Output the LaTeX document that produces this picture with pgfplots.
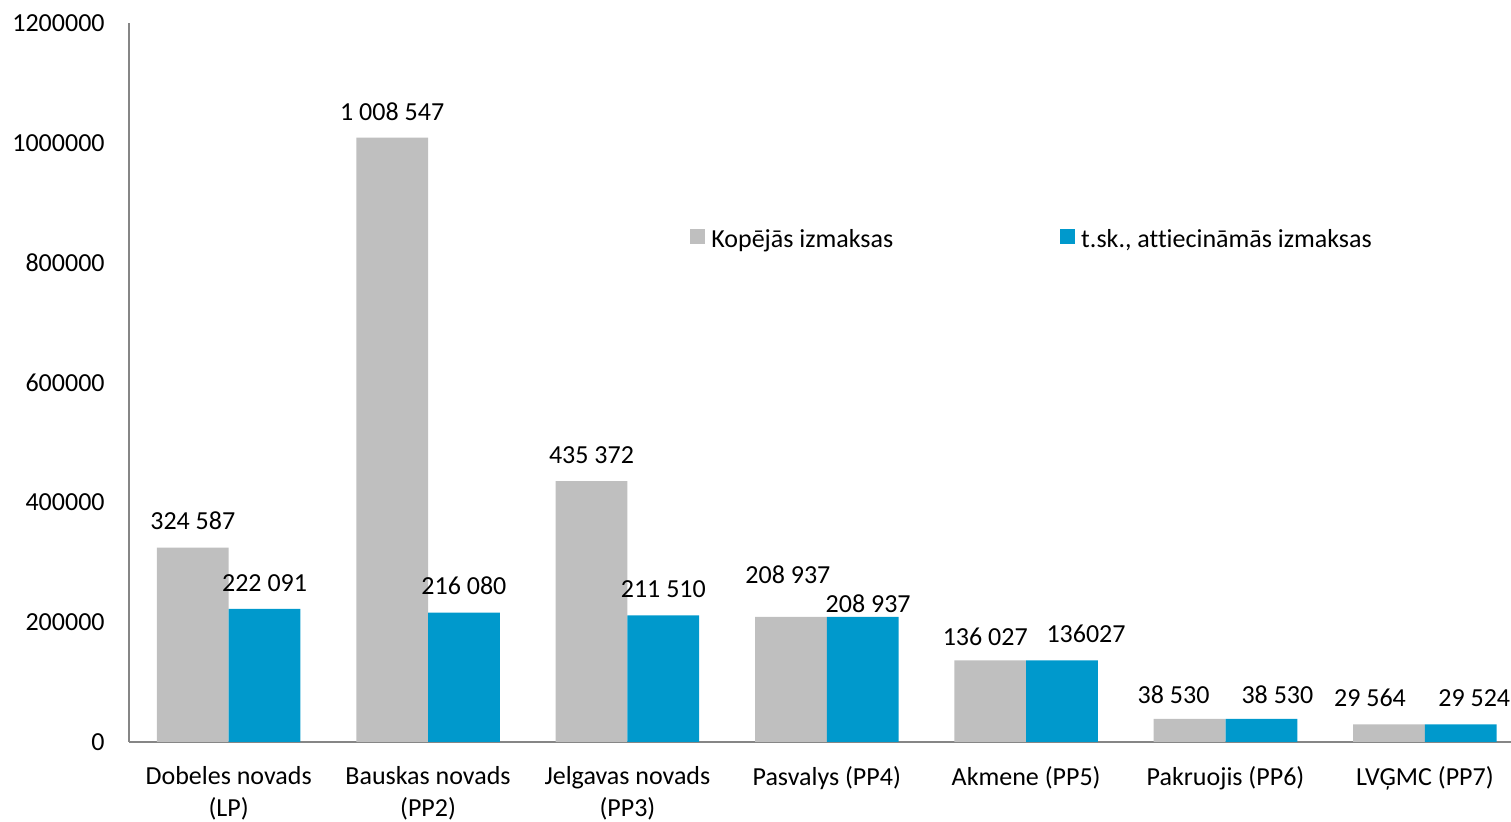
\documentclass[border=0pt]{standalone}
\usepackage{pgfplots}
\pgfplotsset{compat=1.18}
\usepackage{pgfplotstable}
\usepackage{fontspec}
\setmainfont{Carlito}[Ligatures=NoCommon]
\definecolor{cgray}{RGB}{191,191,191}
\definecolor{cblue}{RGB}{0,153,204}
\definecolor{caxis}{RGB}{134,134,134}

\pgfplotstableread[col sep=comma]{
x,y,label,dx,dy
0,324587,324 587,0,13.25
1,1008547,1 008 547,0,12.9
2,435372,435 372,0,13
3,208937,208 937,-1.5,20.9
4,136027,136 027,-2.5,11.75
5,38530,38 530,-8,12
6,29564,29 564,-9.5,13
}\kopejas

\pgfplotstableread[col sep=comma]{
x,y,label,dx,dy
0,222091,222 091,0,13
1,216080,216 080,0,13.25
2,211510,211 510,0,13.15
3,208937,208 937,2.75,6.4
4,136027,136027,12,13.25
5,38530,38 530,8,12
6,29524,29 524,6.75,13
}\attiec

\begin{document}
\fontsize{13}{15.5}\selectfont
\begin{tikzpicture}
\useasboundingbox (-64.5pt,-40pt) rectangle (691pt,371pt);
\begin{axis}[
  scale only axis,
  width=691pt, height=359.5pt,
  at={(0,0)}, anchor=south west,
  xmin=-0.5, xmax=6.432,
  ymin=0, ymax=1200000,
  ytick={0,200000,400000,600000,800000,1000000,1200000},
  scaled y ticks=false,
  yticklabel style={/pgf/number format/fixed, /pgf/number format/1000 sep={}, /pgf/number format/assume math mode=true, inner sep=0pt, xshift=-12pt, font=\fontsize{13}{15.5}\selectfont},
  xtick={0,1,2,3,4,5,6},
  xticklabels={{Dobeles novads\\(LP)},{Bauskas novads\\(PP2)},{Jelgavas novads\\(PP3)},{Pasvalys (PP4)},{Akmene (PP5)},{Pakruojis (PP6)},{LVĢMC (PP7)}},
  xticklabel style={align=center, inner sep=0pt, yshift=-12pt, font=\fontsize{13}{16.2}\selectfont},
  major tick length=0pt,
  axis x line=bottom, axis y line=left,
  axis line style={-, draw=caxis, line width=1pt},
  ybar=0pt, bar width=0.36,
  nodes near coords,
  point meta=explicit symbolic,
  visualization depends on={\thisrow{dx} \as \labdx},
  visualization depends on={\thisrow{dy} \as \labdy},
  nodes near coords style={anchor=center, inner sep=0pt, xshift=\labdx pt, yshift=\labdy pt, text=black, font=\fontsize{13}{15.5}\selectfont},
  legend columns=2,
  legend style={draw=none, fill=none, at={(rel axis cs:0.4059,0.698)}, anchor=west, inner xsep=0pt, inner ysep=0pt,
    nodes={inner xsep=3pt, inner ysep=0pt}, font=\fontsize{13}{15.5}\selectfont,
    /tikz/column 2/.style={column sep=80.5pt}},
  legend image code/.code={\fill[#1] (0pt,-2pt) rectangle (7.5pt,5.5pt);},
]
\addplot[fill=cgray, draw=none, bar shift=-0.18] table[x=x, y=y, meta=label] {\kopejas};
\addlegendentry{Kopējās izmaksas}
\addplot[fill=cblue, draw=none, bar shift=0.18] table[x=x, y=y, meta=label] {\attiec};
\addlegendentry{t.sk., attiecināmās izmaksas}
\end{axis}
\end{tikzpicture}
\end{document}
